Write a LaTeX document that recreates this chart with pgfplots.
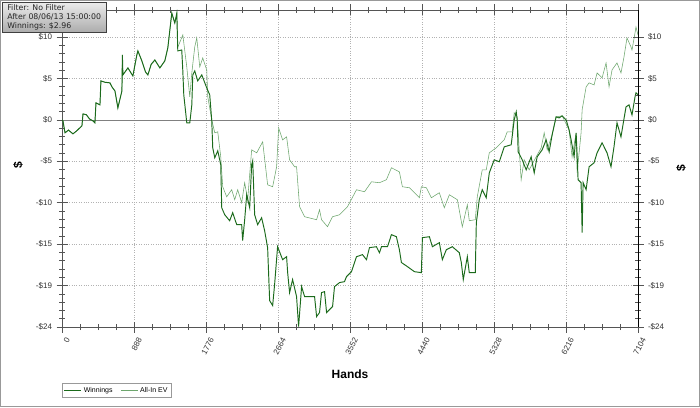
\documentclass[border=0pt]{standalone}
\usepackage{pgfplots}
\pgfplotsset{compat=1.18}
\usepackage{pgfplotstable}
\usepackage{fontspec}
\setmainfont{Liberation Sans}
\newfontfamily\verd{DejaVu Sans}
\usetikzlibrary{shadings}
\definecolor{win}{HTML}{1B6A1B}
\definecolor{ev}{HTML}{6DA66D}
\definecolor{axgray}{HTML}{555555}

\pgfplotstableread{
h d
0 0
12 -0.12
37 -1.52
80 -1.2
135 -1.64
180 -1.3
246 -0.70
259 0.70
300 0.6
340 0.1
382 -0.12
406 -0.35
419 1.99
468 1.75
480 4.56
530 4.4
591 4.33
620 3.8
653 3.39
689 1.40
739 3.39
745 7.60
751 5.26
813 6.08
874 5.14
923 7.60
936 8.07
985 6.90
1030 5.6
1059 5.26
1100 6.5
1145 7.01
1207 6.08
1268 6.90
1305 8.42
1354 12.5
1391 11.34
1416 12.51
1428 8.07
1477 8.18
1490 5.73
1502 2.92
1539 -0.35
1576 -0.35
1601 1.75
1613 5.26
1637 5.73
1674 4.56
1724 5.26
1785 3.74
1822 2.92
1847 -0.12
1859 -3.27
1884 -4.44
1921 -3.62
1958 -5.26
1970 -10.29
2007 -11.11
2068 -11.81
2105 -10.87
2155 -12.27
2216 -12.27
2228 -14.14
2253 -11.69
2278 -8.77
2315 -10.29
2339 -5.26
2352 -4.79
2376 -11.11
2413 -12.27
2462 -11.46
2499 -12.98
2536 -14.96
2561 -21.16
2598 -21.74
2622 -19.29
2659 -14.85
2721 -16.37
2770 -16.02
2783 -17.89
2807 -20.22
2844 -18.70
2893 -20.69
2918 -24.2
2943 -21.04
2955 -19.52
2992 -20.69
3115 -20.69
3140 -23.03
3176 -22.56
3201 -20.22
3238 -20.11
3263 -22.56
3300 -22.21
3337 -21.86
3361 -19.52
3423 -19.05
3484 -18.94
3509 -18.35
3570 -17.77
3632 -16.02
3706 -15.78
3755 -16.37
3792 -14.96
3878 -14.85
3915 -15.55
3940 -14.85
4014 -14.85
4063 -13.44
4124 -13.68
4161 -15.20
4186 -16.7
4260 -17.18
4346 -17.77
4432 -17.89
4445 -13.79
4531 -13.68
4568 -14.85
4654 -14.38
4691 -16.37
4740 -15.20
4814 -14.85
4900 -15.55
4925 -16.72
4949 -18.70
4999 -16.02
5023 -17.89
5060 -17.89
5097 -17.89
5110 -12.04
5146 -9.35
5183 -8.18
5232 -9.12
5270 -6.20
5331 -4.68
5393 -4.91
5454 -3.16
5540 -2.92
5577 0
5602 0.94
5614 0
5626 -3.74
5676 -4.68
5725 -5.85
5786 -4.33
5824 -6.20
5860 -4.33
5922 -3.51
5971 -2.34
6008 -3.74
6045 -1.75
6094 0.35
6131 0.23
6168 0.47
6218 0
6254 -1.17
6279 -2.34
6316 -4.33
6341 -1.52
6353 -4.09
6365 -7.01
6402 -7.36
6415 -13.2
6427 -7.36
6464 -8.18
6501 -5.49
6562 -5.03
6599 -3.86
6661 -2.69
6722 -3.86
6771 -5.49
6808 -3.16
6845 -0.35
6894 -1.99
6956 1.52
6993 1.75
7030 0.58
7067 2.69
7079 3.16
7104 2.96
}\winnings

\pgfplotstableread{
h d
0 0
12 -0.12
37 -1.52
80 -1.2
135 -1.64
180 -1.3
246 -0.70
259 0.70
300 0.6
340 0.1
382 -0.12
406 -0.35
419 1.99
468 1.75
480 4.56
530 4.4
591 4.33
620 3.8
653 3.39
689 1.40
739 3.39
745 7.60
751 5.26
813 6.08
874 5.14
923 7.60
936 8.07
985 6.90
1030 5.6
1059 5.26
1100 6.5
1145 7.01
1207 6.08
1268 6.90
1305 8.42
1354 12.5
1391 11.34
1416 12.27
1428 8.5
1490 9.94
1539 6.20
1576 2.69
1601 5.49
1637 8.53
1662 9.59
1699 6.20
1736 7.25
1785 5.85
1798 2.69
1847 0
1884 -1.52
1921 -1.40
1958 -4.33
1982 -7.83
2031 -9.00
2093 -8.18
2130 -9.35
2167 -8.18
2216 -9.70
2253 -7.36
2290 -9.35
2339 -3.51
2401 -3.86
2475 -2.57
2536 -7.60
2598 -7.83
2647 -5.49
2672 -0.94
2721 -2.34
2770 -1.99
2807 -4.68
2869 -5.49
2893 -5.49
2930 -10.17
2992 -11.34
3140 -11.69
3176 -10.52
3201 -11.69
3275 -12.51
3337 -11.34
3423 -11.11
3521 -10.17
3632 -8.18
3731 -8.42
3817 -7.25
3915 -7.36
4001 -7.01
4063 -5.61
4161 -6.08
4198 -7.83
4285 -7.95
4371 -8.77
4408 -9.12
4432 -7.83
4494 -7.95
4555 -9.12
4654 -8.53
4715 -10.29
4777 -8.77
4876 -9.35
4937 -12.51
4999 -9.94
5023 -11.81
5097 -11.69
5122 -9.00
5183 -5.85
5232 -5.85
5270 -3.86
5356 -3.27
5454 -2.34
5491 -1.40
5553 -1.40
5577 0.82
5614 0.35
5639 -3.51
5663 -7.01
5700 -4.68
5762 -5.85
5848 -4.33
5910 -3.27
5947 -1.52
5984 -3.51
6045 -1.75
6094 0.35
6168 0.47
6254 -1.17
6291 -4.33
6341 -1.52
6353 -6.2
6402 -1.52
6415 1.17
6464 3.86
6501 4.33
6562 4.09
6599 5.49
6661 4.91
6710 6.66
6747 3.86
6784 5.85
6845 6.66
6894 5.49
6931 7.36
6968 9.59
7018 8.53
7030 8.18
7067 10.17
7079 10.87
7104 9.94
}\allinev

\pgfplotsset{
  common/.style={
    at={(62pt,80pt)}, anchor=south west,
    scale only axis, width=576pt, height=317pt,
    xmin=0, xmax=7104, ymin=-24.25, ymax=12.86,
    ytick={-24.25,-19.4,-14.55,-9.7,-4.85,0,4.85,9.7},
    yticklabels={-\$24,-\$19,-\$15,-\$10,-\$5,\$0,\$5,\$10},
    minor y tick num=4,
    tick align=center,
    major tick length=11pt, minor tick length=6pt,
    every tick/.style={axgray, line width=0.5pt},
    every minor tick/.style={axgray, line width=0.5pt},
    tick label style={font=\fontsize{8}{9}\selectfont, text=black!80},
  }
}

\begin{document}
\begin{tikzpicture}[x=1pt,y=1pt]
\path[use as bounding box] (0,0) rectangle (700,407);
\fill[white] (0,0) rectangle (700,407);
\draw[gray!80, line width=1pt] (0.5,0.5) rectangle (699.5,406.5);

\begin{axis}[common,
    axis line style={axgray, line width=0.6pt},
    xtick={0,888,1776,2664,3552,4440,5328,6216,7104},
    xticklabels={0,888,1776,2664,3552,4440,5328,6216,7104},
    minor x tick num=3,
    xticklabel style={rotate=62, anchor=east, yshift=-8pt, xshift=1pt},
    yticklabel style={xshift=-1pt},
    ytick pos=left,
    grid=major,
    major grid style={gray!60, dotted, line width=0.5pt},
    xlabel={\bfseries Hands},
    xlabel style={font=\fontsize{12}{14}\selectfont, at={(axis description cs:0.5,-0.148)}, anchor=center},
    legend style={at={(axis description cs:0,-0.178)}, anchor=north west,
      font=\fontsize{7}{7.5}\selectfont, draw=gray!80, inner sep=1.5pt,
      row sep=0pt, /tikz/every even column/.append style={column sep=6pt}},
    legend columns=2,
    legend cell align=left,
]
\addlegendimage{win, line width=1pt}
\addlegendimage{ev, line width=0.6pt}
\addplot[gray, line width=0.6pt, forget plot] coordinates {(0,0) (7104,0)};
\addplot[ev, line width=0.55pt, forget plot] table[x=h, y=d] {\allinev};
\addplot[win, line width=0.95pt, forget plot] table[x=h, y=d] {\winnings};
\legend{Winnings, All-In EV}
\end{axis}

\begin{axis}[common,
    axis y line*=right, axis x line=none,
    yticklabel style={xshift=1pt},
]
\addplot[draw=none, forget plot] coordinates {(0,0)};
\end{axis}

\node[rotate=90, font=\bfseries\fontsize{12}{14}\selectfont] at (18,242) {\$};
\node[rotate=90, font=\bfseries\fontsize{12}{14}\selectfont] at (681,239) {\$};

\node[anchor=north west, draw=gray!50!black, top color=gray!15, bottom color=gray!65,
      minimum width=104pt, minimum height=30pt, inner sep=1.5pt, align=left,
      font=\verd\fontsize{7.8}{9.3}\selectfont, text=black!85] at (2,405)
  {Filter: No Filter\\After 08/06/13 15:00:00\\Winnings: \$2.96};
\end{tikzpicture}
\end{document}
